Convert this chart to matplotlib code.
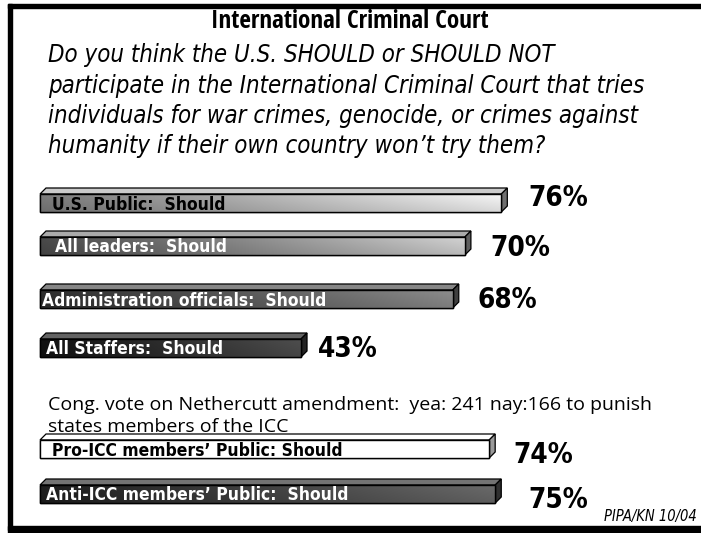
import numpy as np
import matplotlib.pyplot as plt
from matplotlib.patches import Polygon, Rectangle
from matplotlib.colors import to_rgb

# survey data
labels = ['U.S. Public:  Should', 'All leaders:  Should', 'Administration officials:  Should',
          'All Staffers:  Should', 'Pro-ICC members\u2019 Public: Should', 'Anti-ICC members\u2019 Public:  Should']
values = [76, 70, 68, 43, 74, 75]

# style per bar (gradient left, gradient right, text colour)
left_cols = ['#7c7c7c', '#4a4a4a', '#2e2e2e', '#111111', '#ffffff', '#1e1e1e']
right_cols = ['#f6f6f6', '#d2d2d2', '#8c8c8c', '#4e4e4e', '#ffffff', '#6a6a6a']
text_cols = ['black', 'white', 'white', 'white', 'black', 'white']
bar_y = [203, 246, 299, 348, 449, 494]   # layout, pixel rows
label_pad = [12, 15, 2, 6, 12, 6]        # px from bar start
pct_pad = [21, 19, 19, 11, 18, 27]       # px after side face
pct_dy = [-5, 2, 1, 1, 6, 6]
bar_h = 18

W, H = 701, 533
PX = 6.07            # pixels per percent
X0 = 40              # pixel where 0% sits
fig = plt.figure(figsize=(W / 100, H / 100), dpi=100)
ax = fig.add_axes([0, 0, 1, 1])
ax.set_xlim(-X0 / PX, (W - X0) / PX)
ax.set_ylim(H, 0)
ax.axis('off')

dx = 6 / PX
dy = 6
cond = dict(family='DejaVu Sans', stretch='condensed')


def blend(c, t, amt):
    c, t = np.array(to_rgb(c)), np.array(to_rgb(t))
    return tuple(c + (t - c) * amt)


for i, (lab, v) in enumerate(zip(labels, values)):
    y = bar_y[i]
    top, bot = y - bar_h / 2, y + bar_h / 2
    # top face
    mid = blend(left_cols[i], right_cols[i], 0.5)
    top_face = Polygon([(0, top), (dx, top - dy), (v + dx, top - dy), (v, top)],
                       closed=True, fc=blend(mid, 'white', 0.25) if i != 4 else 'white',
                       ec='black', lw=0.9, zorder=2)
    ax.add_patch(top_face)
    # side face
    side_face = Polygon([(v, top), (v + dx, top - dy), (v + dx, bot - dy), (v, bot)],
                        closed=True, fc=blend(right_cols[i], 'black', 0.55) if i != 4 else '#9a9a9a',
                        ec='black', lw=0.9, zorder=2)
    ax.add_patch(side_face)
    # front face with gradient
    front = ax.barh(y, v, height=bar_h, left=0, color='white', edgecolor='black', lw=1.0, zorder=2.5)[0]
    c0, c1 = np.array(to_rgb(left_cols[i])), np.array(to_rgb(right_cols[i]))
    t = np.linspace(0, 1, 256)
    grad = c0[None, None, :] + (c1 - c0)[None, None, :] * t[None, :, None]
    shade = np.linspace(1.0, 0.88, 16)[:, None, None] if i != 4 else np.ones((16, 1, 1))
    img = np.clip(grad * shade, 0, 1)
    im = ax.imshow(img, extent=(0, v, bot, top), aspect='auto', zorder=3, interpolation='bilinear')
    im.set_clip_path(front)
    ax.barh(y, v, height=bar_h, left=0, color='none', edgecolor='black', lw=1.0, zorder=4)
    ax.text(label_pad[i] / PX, y + 1.5, lab, color=text_cols[i], fontsize=12.5, fontweight='bold',
            va='center', ha='left', zorder=5, **cond)
    ax.text(v + dx + pct_pad[i] / PX, y + pct_dy[i], f'{v}%', fontsize=20, fontweight='bold',
            va='center', ha='left', zorder=5, **cond)

# titles and notes
ax.text(350 / PX - X0 / PX, 21, 'International Criminal Court', ha='center', va='center',
        fontsize=18, fontweight='bold', family='Open Sans Condensed', stretch='condensed')
question = ['Do you think the U.S. SHOULD or SHOULD NOT',
            'participate in the International Criminal Court that tries',
            'individuals for war crimes, genocide, or crimes against',
            'humanity if their own country won\u2019t try them?']
for k, line in enumerate(question):
    ax.text(48 / PX - X0 / PX, 55 + 30.5 * k, line, ha='left', va='center',
            fontsize=17.2, style='italic', **cond)
ax.text(48 / PX - X0 / PX, 405, 'Cong. vote on Nethercutt amendment:  yea: 241 nay:166 to punish',
        ha='left', va='center', fontsize=14, family='Open Sans', zorder=1)
ax.text(48 / PX - X0 / PX, 427, 'states members of the ICC', ha='left', va='center',
        fontsize=14, family='Open Sans', zorder=1)
ax.text(697 / PX - X0 / PX, 517, 'PIPA/KN 10/04', ha='right', va='center',
        fontsize=10.5, style='italic', **cond)

# frame: left, top and thick bottom rules
ax.add_patch(Rectangle((8 / PX - X0 / PX, 4), 4 / PX, 526, color='black', zorder=6, clip_on=False))
ax.add_patch(Rectangle((8 / PX - X0 / PX, 4), (W - 8) / PX, 3.5, color='black', zorder=6, clip_on=False))
ax.add_patch(Rectangle((8 / PX - X0 / PX, 526), (W - 8) / PX, 8, color='black', zorder=6, clip_on=False))

fig.savefig('out.png', dpi=100)
